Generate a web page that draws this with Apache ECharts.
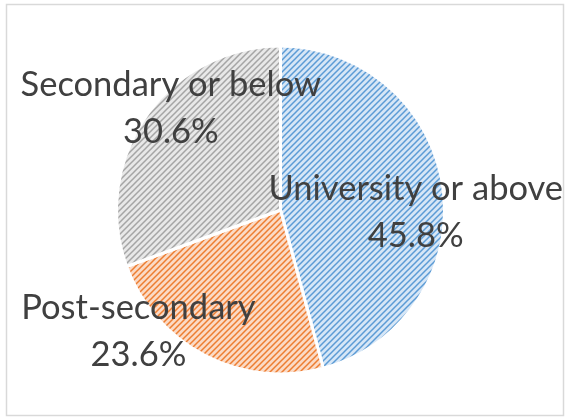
<!DOCTYPE html>
<html>
<head>
<meta charset="utf-8">
<script src="https://cdn.jsdelivr.net/npm/echarts@6/dist/echarts.min.js"></script>
<style>
html,body{margin:0;padding:0;background:#fff;}
#chart{width:566px;height:419px;}
</style>
</head>
<body>
<div id="chart"></div>
<script>
const categories = ['University or above', 'Post-secondary', 'Secondary or below'];
const values = [45.8, 23.6, 30.6];

const stripeColors = ['#5b9bd5', '#ed7d31', '#a5a5a5'];
const bgColors = ['#d6e6f6', '#fbdac5', '#e8e8e8'];
const labelOffsets = [[51, 14], [-103, 46], [-40, -53]];

function makePattern(fg, bg) {
  const s = 6;
  const c = document.createElement('canvas');
  c.width = s; c.height = s;
  const g = c.getContext('2d');
  g.fillStyle = bg;
  g.fillRect(0, 0, s, s);
  g.strokeStyle = fg;
  g.lineWidth = 1.5;
  g.beginPath();
  g.moveTo(-1, s + 1); g.lineTo(s + 1, -1);
  g.moveTo(-1, 1); g.lineTo(1, -1);
  g.moveTo(s - 1, s + 1); g.lineTo(s + 1, s - 1);
  g.stroke();
  return { image: c, repeat: 'repeat' };
}

const chart = echarts.init(document.getElementById('chart'), null, { renderer: 'canvas' });
chart.setOption({
  animation: false,
  backgroundColor: '#ffffff',
  graphic: [{
    type: 'rect',
    shape: { x: 6.5, y: 4.5, width: 557, height: 411 },
    style: { fill: 'none', stroke: '#d9d9d9', lineWidth: 1.5 },
    silent: true
  }],
  series: [{
    type: 'pie',
    center: [280.5, 210],
    radius: 164,
    startAngle: 90,
    clockwise: true,
    avoidLabelOverlap: false,
    data: categories.map((name, i) => ({
      name: name,
      value: values[i],
      itemStyle: { color: makePattern(stripeColors[i], bgColors[i]) }
    })),
    itemStyle: { borderColor: '#ffffff', borderWidth: 3 },
    label: {
      show: true,
      position: 'inside',
      formatter: p => p.name + '\n' + p.value.toFixed(1) + '%',
      color: '#404040',
      fontFamily: 'Lato',
      fontSize: 34.5,
      lineHeight: 47,
      align: 'center'
    },
    labelLine: { show: false },
    labelLayout: function (params) {
      const o = labelOffsets[params.dataIndex];
      return { dx: o[0], dy: o[1] };
    },
    emphasis: { disabled: true }
  }]
});
</script>
</body>
</html>
